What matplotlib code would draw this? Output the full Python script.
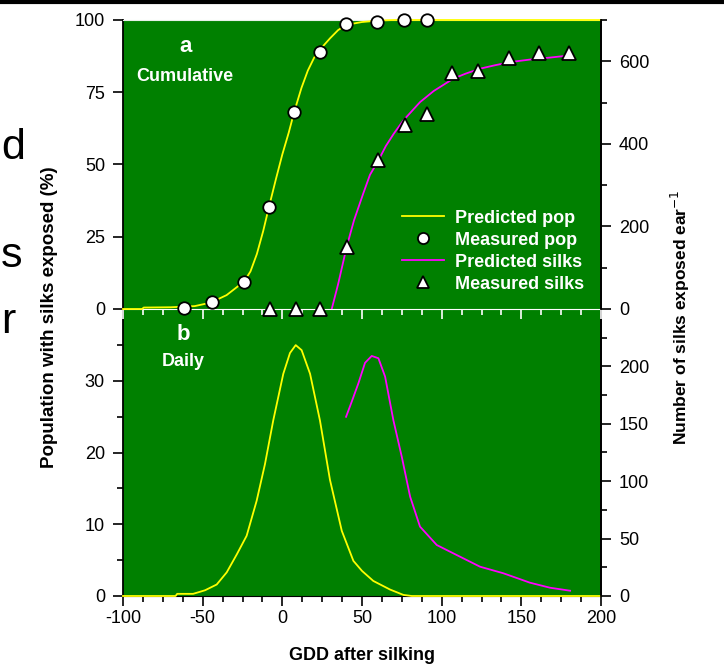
import matplotlib
matplotlib.use("Agg")
import matplotlib.pyplot as plt
from matplotlib.lines import Line2D
from matplotlib.ticker import MultipleLocator

plt.rcParams['font.family'] = ['Liberation Sans', 'DejaVu Sans']
plt.rcParams['axes.unicode_minus'] = False

# ==========================================================
# DATI
# ==========================================================
# misurati - popolazione (%)
pop_gdd = [-61.5, -44, -24, -8.4, 7.5, 23.6, 40, 59.4, 76.4, 90.8]
pop_pct = [0.5, 2.5, 9.5, 35.3, 68.3, 89, 98.5, 99.3, 100, 100]

# misurati - sete per spiga
silk_gdd = [-7.7, 8.6, 23.6, 40.4, 59.8, 77, 91, 106.3, 123, 142.5, 161.1, 180.1]
silk_n = [0, 0, 0, 151, 362, 445, 472, 572, 577, 609, 621, 621]

# previsto cumulativo - popolazione
pred_pop_gdd = [-100, -88, -87, -70, -55, -45, -35, -24, -20, -16, -12, -8.4, -4, 0, 4,
                7.5, 12, 16, 20, 24, 30, 35, 40, 50, 60, 70, 200]
pred_pop_pct = [0, 0, 0.5, 0.6, 1.0, 2.2, 4.8, 9.5, 13, 19, 27, 35.3, 45, 53.5, 61,
                68.3, 76.5, 82.5, 87, 90, 93.7, 96.5, 98.3, 99.3, 99.8, 100, 100]

# previsto cumulativo - sete
pred_silk_gdd = [31, 35, 40.4, 45, 50.8, 55, 60.3, 65, 70, 76, 86.4, 95, 107.3, 115,
                 124, 133, 142.9, 155, 168, 180]
pred_silk_n = [0, 60, 151, 215, 280, 325, 360, 395, 425, 457, 501, 528, 558, 570,
               582, 590, 598, 604, 609, 614]

# previsto giornaliero - popolazione (%)
daily_pop_gdd = [-100, -67, -66, -56, -48.5, -41.2, -34.9, -28.6, -22.4, -16.1, -10.9,
                 -5.7, 0.6, 4.8, 8.4, 12.1, 17.4, 23.6, 29.9, 37.3, 44.6, 50, 57.1,
                 67.6, 76, 81.2, 200]
daily_pop = [0, 0, 0.3, 0.3, 0.8, 1.6, 3.3, 5.8, 8.4, 13.3, 18.4, 24.5, 31, 33.9, 35,
             34.3, 31, 24.5, 16.2, 9.1, 4.9, 3.5, 2.1, 0.9, 0.15, 0, 0]

# previsto giornaliero - sete
daily_silk_gdd = [40, 43.5, 47.7, 51.9, 56.1, 60.3, 64.5, 69.7, 75, 80.2, 86.4, 96.9,
                  109.4, 124.1, 138.7, 155.4, 168, 180.6]
daily_silk = [156, 169, 185, 203, 209, 207, 191, 153, 121, 86.5, 60.4, 44.4, 35.7,
              25.5, 19.8, 11.6, 7.2, 4.6]

GREEN = "#008000"
YELLOW = "#ffff00"
MAGENTA = "#ff00ff"

# ==========================================================
# FIGURA
# ==========================================================
W, H = 724, 666
fig = plt.figure(figsize=(W / 100, H / 100), dpi=100)

# pannello b (sotto) creato per primo, cosi' i tick bianchi di a restano sopra
ax2 = fig.add_axes([123 / W, 1 - 596 / H, 478 / W, 286 / H])
ax2r = ax2.twinx()
ax1 = fig.add_axes([123 / W, 1 - 309 / H, 478 / W, 289 / H])
ax1r = ax1.twinx()

for ax in (ax1, ax2):
    ax.set_facecolor(GREEN)
    ax.set_xlim(-100, 200)

# i twin non ridisegnano i bordi orizzontali (coprirebbero le linee gialle)
for ax in (ax1r, ax2r):
    ax.spines["top"].set_visible(False)
    ax.spines["bottom"].set_visible(False)
    ax.spines["left"].set_visible(False)

# ----- pannello a: cumulativo -----
ax1.plot(pred_pop_gdd, pred_pop_pct, color=YELLOW, lw=1.3, clip_on=False, zorder=3)
ax1.plot(pop_gdd, pop_pct, "o", ms=9, mfc="white", mec="black", mew=1.3, clip_on=False,
         zorder=4)
ax1.set_ylim(0, 100)
ax1.set_yticks([0, 25, 50, 75, 100])

ax1r.plot(pred_silk_gdd, pred_silk_n, color=MAGENTA, lw=1.3)
ax1r.plot(silk_gdd, silk_n, "^", ms=10, mfc="white", mec="black", mew=1.3, clip_on=False)
ax1r.set_ylim(0, 700)
ax1r.set_yticks([0, 200, 400, 600])
ax1r.yaxis.set_minor_locator(MultipleLocator(100))

ax1.xaxis.set_major_locator(MultipleLocator(50))
ax1.xaxis.set_minor_locator(MultipleLocator(12.5))
ax1.tick_params(axis="x", which="both", colors="white", labelbottom=False)
ax1.tick_params(axis="x", which="major", length=7, width=1.2)
ax1.tick_params(axis="x", which="minor", length=4, width=1.2)
ax1.spines["bottom"].set_color("white")
ax1.spines["top"].set_color("#e8f0e8")

ax1.text(-61, 91, "a", color="white", fontsize=16, fontweight="bold", ha="center", va="center")
ax1.text(-61, 80.5, "Cumulative", color="white", fontsize=13, fontweight="bold",
         ha="center", va="center")

handles = [
    Line2D([], [], color=YELLOW, lw=1.3),
    Line2D([], [], ls="none", marker="o", ms=8, mfc="white", mec="black", mew=1.3),
    Line2D([], [], color=MAGENTA, lw=1.3),
    Line2D([], [], ls="none", marker="^", ms=8, mfc="white", mec="black", mew=1.3),
]
labels = ["Predicted pop", "Measured pop", "Predicted silks", "Measured silks"]
leg = ax1r.legend(handles, labels, loc="upper left", bbox_to_anchor=(0.55, 0.4),
                  frameon=False, handlelength=2.3, handletextpad=0.6, labelspacing=0.28,
                  prop={"weight": "bold", "size": 13})
for t in leg.get_texts():
    t.set_color("white")

# ----- pannello b: giornaliero -----
ax2.plot(daily_pop_gdd, daily_pop, color=YELLOW, lw=1.3, clip_on=False, zorder=3)
ax2.set_ylim(0, 39.9)
ax2.set_yticks([0, 10, 20, 30])
ax2.yaxis.set_minor_locator(MultipleLocator(5))

ax2r.plot(daily_silk_gdd, daily_silk, color=MAGENTA, lw=1.3)
ax2r.set_ylim(0, 249)
ax2r.set_yticks([0, 50, 100, 150, 200])
ax2r.yaxis.set_minor_locator(MultipleLocator(25))

ax2.xaxis.set_major_locator(MultipleLocator(50))
ax2.xaxis.set_minor_locator(MultipleLocator(12.5))
ax2.tick_params(axis="x", which="major", length=7, width=1.2, labelsize=13, pad=3)
ax2.tick_params(axis="x", which="minor", length=4, width=1.2)
ax2.spines["top"].set_visible(False)

ax2.text(-62, 36.5, "b", color="white", fontsize=16, fontweight="bold", ha="center", va="center")
ax2.text(-62, 32.7, "Daily", color="white", fontsize=13, fontweight="bold",
         ha="center", va="center")

for ax in (ax1, ax2, ax1r, ax2r):
    ax.tick_params(axis="y", which="major", length=7, width=1.2, labelsize=13, pad=6)
    ax.tick_params(axis="y", which="minor", length=4, width=1.2)
    for s in ("left", "right"):
        ax.spines[s].set_linewidth(1.3)

# ----- etichette assi -----
fig.text(50 / W, 1 - 317 / H, "Population with silks exposed (%)", rotation=90,
         fontsize=13.5, fontweight="bold", ha="center", va="center")
fig.text(680 / W, 1 - 317 / H, "Number of silks exposed ear$^{-1}$", rotation=90,
         fontsize=12.5, fontweight="bold", ha="center", va="center")
fig.text(362 / W, 1 - 655 / H, "GDD after silking", fontsize=13, fontweight="bold",
         ha="center", va="center")

# frammenti della slide a sinistra
for letter, y in (("d", 148), ("s", 256), ("r", 322)):
    fig.text(1 / W, 1 - y / H, letter, fontsize=31, ha="left", va="center")

# barra nera in alto
fig.add_artist(Line2D([0, 1], [1 - 2 / H, 1 - 2 / H], color="black", lw=3,
                      transform=fig.transFigure))

fig.savefig("out.png", dpi=100)
plt.close(fig)
